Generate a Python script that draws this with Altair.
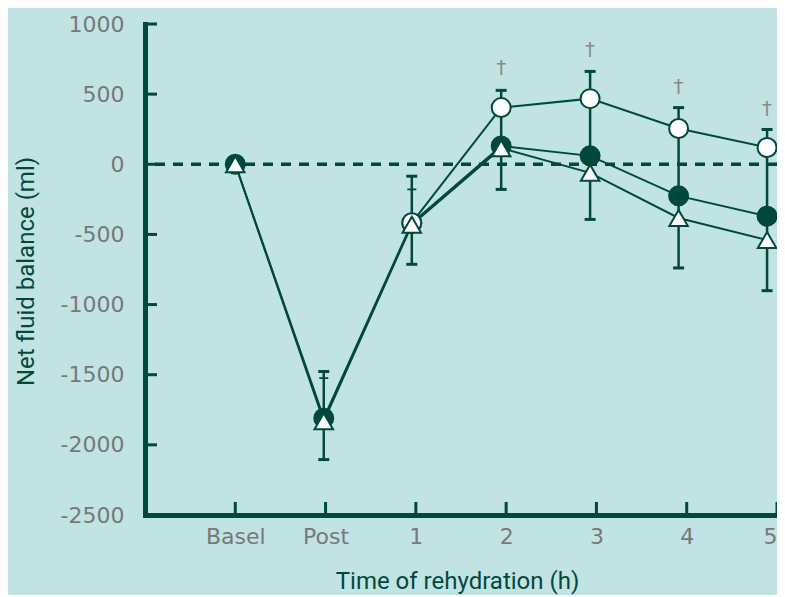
import altair as alt
import pandas as pd

# ---------------- data ----------------
time_labels = ["Basel", "Post", "1", "2", "3", "4", "5"]
tick_pos = [0, 1, 2, 3, 4, 5, 6]
point_pos = [0, 0.98, 1.955, 2.945, 3.93, 4.91, 5.89]
y_ticks = [1000, 500, 0, -500, -1000, -1500, -2000, -2500]

filled_vals = [0, -1810, -420, 130, 60, -225, -370]
open_vals = [None, None, -417, 404, 468, 255, 120]
triangle_vals = [0, -1832, -431, 115, -61, -383, -540]

err_hi = [None, -1477, -85, 527, 662, 404, 248]
err_lo = [None, -2105, -713, -179, -393, -739, -901]
err_inner = [None, -1524, -179, None, None, None, None]
dagger_y = [None, None, None, 684, 812, 549, 392]

# ---------------- style ----------------
DARK = "#01493b"
GRAY = "#787878"
BG = "#c1e3e3"
W, H = 632, 491

rows = []
for name, vals in [("filled", filled_vals), ("open", open_vals), ("triangle", triangle_vals)]:
    for x, v in zip(point_pos, vals):
        if v is not None:
            rows.append({"series": name, "x": x, "y": v})
pts = pd.DataFrame(rows)

err = pd.DataFrame([{"x": x, "lo": lo, "hi": hi}
                    for x, lo, hi in zip(point_pos, err_lo, err_hi) if lo is not None])
caps = pd.DataFrame([{"x": x, "y": v}
                     for x, lo, hi in zip(point_pos, err_lo, err_hi) if lo is not None
                     for v in (lo, hi)])
inner = pd.DataFrame([{"x": x, "y": v} for x, v in zip(point_pos, err_inner) if v is not None])
dag = pd.DataFrame([{"x": x, "y": v} for x, v in zip(point_pos, dagger_y) if v is not None])
ytk = pd.DataFrame({"v": y_ticks})
xtk = pd.DataFrame({"v": tick_pos})
zero = pd.DataFrame({"y": [0]})

xscale = alt.Scale(domain=[-1, 6], nice=False, zero=False)
yscale = alt.Scale(domain=[-2500, 1000], nice=False, zero=False)

label_expr = "[" + ",".join("'%s'" % t for t in time_labels) + "][datum.value]"

x_axis = alt.Axis(
    values=tick_pos, labelExpr=label_expr, title="Time of rehydration (h)",
    ticks=False, grid=False, domainColor=DARK, domainWidth=5, domainCap="square",
    labelColor=GRAY, labelFont="DejaVu Sans", labelFontSize=22, labelPadding=11,
    labelBaseline="top",
    titleFont="Roboto", titleFontSize=24, titleColor=DARK, titleFontWeight="normal",
    titleX=W / 2 - 4, titleY=73, titleBaseline="alphabetic", titleAlign="center",
)
y_axis = alt.Axis(
    values=y_ticks, labelExpr="'' + datum.value", title="Net fluid balance (ml)",
    ticks=False, grid=False, domainColor=DARK, domainWidth=5, domainCap="square",
    labelColor=GRAY, labelFont="DejaVu Sans", labelFontSize=22, labelPadding=21,
    titleFont="Roboto", titleFontSize=24, titleColor=DARK, titleFontWeight="normal",
    titleX=-119, titleY=247, titleAngle=270, titleBaseline="middle", titleAlign="center",
)


def X(f):
    return alt.X(f, type="quantitative", scale=xscale, axis=x_axis)


def Y(f):
    return alt.Y(f, type="quantitative", scale=yscale, axis=y_axis)


zero_line = alt.Chart(zero).mark_rule(color=DARK, strokeWidth=3.5, strokeDash=[10, 8]).encode(y=Y("y"))

lines = alt.Chart(pts).mark_line(color=DARK, strokeWidth=2).encode(
    x=X("x"), y=Y("y"), detail="series:N")

err_rules = alt.Chart(err).mark_rule(color=DARK, strokeWidth=2.5).encode(
    x=X("x"), y=Y("lo"), y2="hi:Q")
cap_marks = alt.Chart(caps).mark_tick(color=DARK, orient="horizontal", size=11, thickness=3, opacity=1).encode(
    x=X("x"), y=Y("y"))
inner_marks = alt.Chart(inner).mark_tick(color=DARK, orient="horizontal", size=9, thickness=1.8, opacity=1).encode(
    x=X("x"), y=Y("y"))

filled_pts = alt.Chart(pts).transform_filter("datum.series == 'filled'").mark_point(
    shape="circle", filled=True, fill=DARK, stroke=DARK, strokeWidth=2, size=361, opacity=1
).encode(x=X("x"), y=Y("y"))
open_pts = alt.Chart(pts).transform_filter("datum.series == 'open'").mark_point(
    shape="circle", filled=True, fill="white", stroke=DARK, strokeWidth=2, size=361, opacity=1
).encode(x=X("x"), y=Y("y"))
tri_pts = alt.Chart(pts).transform_filter("datum.series == 'triangle'").mark_point(
    shape="triangle-up", filled=True, fill="white", stroke=DARK, strokeWidth=2, size=342, opacity=1
).encode(x=X("x"), y=Y("y"))

daggers = alt.Chart(dag).mark_text(text="†", color="#8a8a8a", fontSize=20, font="DejaVu Sans",
                                   baseline="middle").encode(x=X("x"), y=Y("y"))

y_tick_marks = alt.Chart(ytk).mark_rule(color=DARK, strokeWidth=3).encode(
    y=Y("v"), x=alt.value(0), x2=alt.value(12))
x_tick_marks = alt.Chart(xtk).mark_rule(color=DARK, strokeWidth=3).encode(
    x=X("v"), y=alt.value(H), y2=alt.value(H - 13))

chart = alt.layer(
    zero_line, lines, err_rules, cap_marks, inner_marks,
    filled_pts, open_pts, tri_pts, daggers, y_tick_marks, x_tick_marks,
).properties(
    width=W, height=H,
    autosize=alt.AutoSizeParams(type="none"),
    padding={"left": 137, "top": 16, "right": 0, "bottom": 80},
    background=BG,
).configure_view(stroke=None)

chart.save("out.html", embed_options={"renderer": "svg", "actions": False})
